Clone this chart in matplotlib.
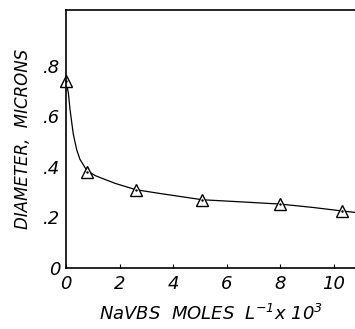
import matplotlib.pyplot as plt

# measured points (NaVBS conc x 10^3, diameter in microns)
conc = [0.0, 0.78, 2.6, 5.1, 8.0, 10.3]
diam = [0.74, 0.38, 0.31, 0.27, 0.253, 0.226]

# smooth curve
curve_x = [0.0, 0.09, 0.15, 0.27, 0.4, 0.52, 0.78, 1.1, 1.46, 1.83, 2.6, 3.5, 5.1, 6.5, 8.0, 9.2, 10.3, 10.8]
curve_y = [0.74, 0.69, 0.626, 0.53, 0.467, 0.43, 0.385, 0.365, 0.35, 0.335, 0.31, 0.295, 0.27, 0.262, 0.253, 0.24, 0.226, 0.22]

xticks = [0, 2, 4, 6, 8, 10]
yticks = [0, 0.2, 0.4, 0.6, 0.8]
ytick_labels = ["0", ".2", ".4", ".6", ".8"]

plt.rcParams['font.family'] = 'DejaVu Sans'
plt.rcParams['font.style'] = 'italic'
plt.rcParams['mathtext.default'] = 'it'

fig = plt.figure(figsize=(3.55, 3.29), dpi=100)
ax = fig.add_axes([0.186, 0.185, 0.814, 0.785])

ax.plot(curve_x, curve_y, 'k-', lw=0.9)
ax.plot(conc, diam, '^', ms=9, mfc='white', mec='black', mew=1.0, ls='none', clip_on=False)
ax.plot(conc, diam, 'k.', ms=1.5, ls='none', clip_on=False)

ax.set_xlim(0, 10.8)
ax.set_ylim(0, 1.02)
ax.set_xticks(xticks)
ax.set_xticklabels([str(t) for t in xticks], fontsize=13, style='italic')
ax.set_yticks(yticks)
ax.set_yticklabels(ytick_labels, fontsize=13, style='italic')
ax.tick_params(axis='x', direction='in', length=3, pad=5)
ax.tick_params(axis='y', length=0, pad=4)
ax.spines['right'].set_visible(False)
for s in ['left', 'bottom', 'top']:
    ax.spines[s].set_linewidth(1.2)

ax.set_ylabel("DIAMETER,  MICRONS", fontsize=12, style='italic', labelpad=8)
ax.set_xlabel(r"NaVBS  MOLES  L$^{-1}$x 10$^{3}$", fontsize=13, style='italic', labelpad=8)

fig.savefig("out.png", dpi=100)
